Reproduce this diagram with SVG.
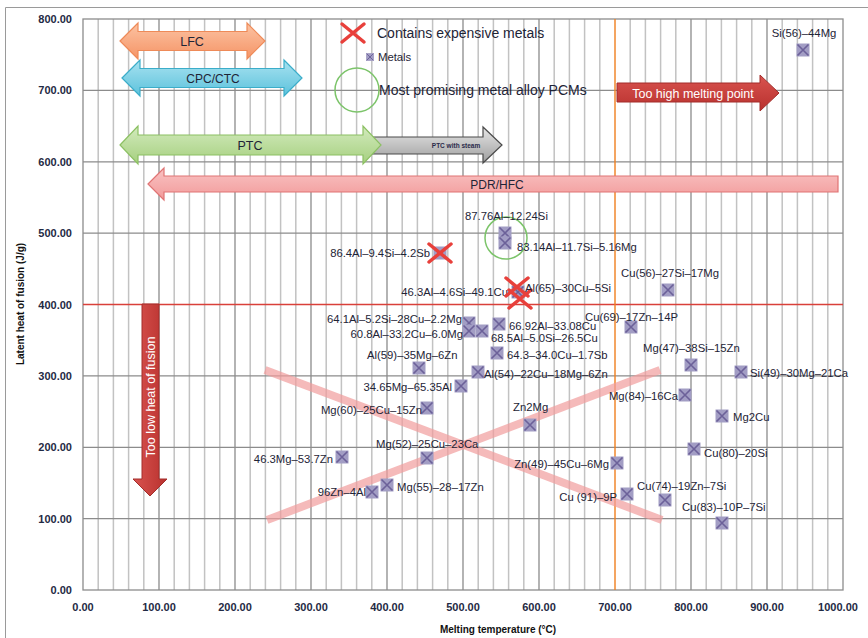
<svg xmlns="http://www.w3.org/2000/svg" width="868" height="638" viewBox="0 0 868 638">
<style>
.lbl{font-family:"Liberation Sans",Arial,sans-serif;font-size:11.3px;fill:#1e2436}
.leg{font-family:"Liberation Sans",Arial,sans-serif;font-size:14px;fill:#1e2436}
.ax{font-family:"Liberation Sans",Arial,sans-serif;font-size:11px;font-weight:bold;fill:#1f2a44}
.tt{font-family:"Liberation Sans",Arial,sans-serif;font-size:10px;font-weight:bold;fill:#111}
.al{font-family:"Liberation Sans",Arial,sans-serif;fill:#1e2436;text-anchor:middle}
.wt{font-family:"Liberation Sans",Arial,sans-serif;font-size:12.5px;fill:#fff;text-anchor:middle}
.minor{stroke:#c2c2c2;stroke-width:1.5;fill:none}
.major{stroke:#8c8c8c;stroke-width:1.3;fill:none}
.pink{stroke:#f29d9d;stroke-width:8;opacity:0.7;stroke-linecap:butt}
</style>
<defs>
<linearGradient id="gO" x1="0" y1="0" x2="0" y2="1"><stop offset="0" stop-color="#fcc3a3"/><stop offset="1" stop-color="#f59466"/></linearGradient>
<linearGradient id="gC" x1="0" y1="0" x2="0" y2="1"><stop offset="0" stop-color="#a8e2f0"/><stop offset="1" stop-color="#5cc2dc"/></linearGradient>
<linearGradient id="gG" x1="0" y1="0" x2="0" y2="1"><stop offset="0" stop-color="#d2eabd"/><stop offset="1" stop-color="#a6d07f"/></linearGradient>
<linearGradient id="gY" x1="0" y1="0" x2="0" y2="1"><stop offset="0" stop-color="#e6e6e6"/><stop offset="1" stop-color="#9e9e9e"/></linearGradient>
<linearGradient id="gP" x1="0" y1="0" x2="0" y2="1"><stop offset="0" stop-color="#f9c3c3"/><stop offset="1" stop-color="#f29a9a"/></linearGradient>
<linearGradient id="gR" x1="0" y1="0" x2="0" y2="1"><stop offset="0" stop-color="#d9534f"/><stop offset="1" stop-color="#b8312e"/></linearGradient>
<linearGradient id="gRv" x1="0" y1="0" x2="1" y2="0"><stop offset="0" stop-color="#d9534f"/><stop offset="1" stop-color="#b8312e"/></linearGradient>
<g id="mk"><rect x="-6.5" y="-6.5" width="13" height="13" fill="#a29dc4"/><path d="M-5.5,-5.5 L5.5,5.5 M5.5,-5.5 L-5.5,5.5" stroke="#6c6199" stroke-width="1.6"/></g>
<path id="rx" d="M-11,-9 L11,9 M11,-9 L-11,9" stroke="#e8403b" stroke-width="3.5" stroke-linecap="round" fill="none"/>
</defs>
<rect width="868" height="638" fill="#fff"/>
<path d="M5.5,640 V7.5 H868" stroke="#9a9a9a" stroke-width="1" fill="none"/>

<g id="grid">
<path class="minor" d="M98.2,19V590M113.4,19V590M128.6,19V590M143.8,19V590M174.2,19V590M189.4,19V590M204.6,19V590M219.8,19V590M250.2,19V590M265.4,19V590M280.6,19V590M295.8,19V590M326.2,19V590M341.4,19V590M356.6,19V590M371.8,19V590M402.2,19V590M417.4,19V590M432.6,19V590M447.8,19V590M478.2,19V590M493.4,19V590M508.6,19V590M523.8,19V590M554.2,19V590M569.4,19V590M584.6,19V590M599.8,19V590M630.2,19V590M645.4,19V590M660.6,19V590M675.8,19V590M706.2,19V590M721.4,19V590M736.6,19V590M751.8,19V590M782.2,19V590M797.4,19V590M812.6,19V590M827.8,19V590"/>
<path class="major" d="M159,19V590M235,19V590M311,19V590M387,19V590M463,19V590M539,19V590M691,19V590M767,19V590"/>
<path class="major" d="M83,518.6H843M83,447.3H843M83,375.9H843M83,233.1H843M83,161.8H843M83,90.4H843"/>
<rect x="83" y="19" width="760" height="571" fill="none" stroke="#8c8c8c" stroke-width="1.3"/>
</g>

<g id="axes">
<g class="ax" text-anchor="end">
<text x="72" y="23">800.00</text><text x="72" y="94.4">700.00</text><text x="72" y="165.8">600.00</text><text x="72" y="237.1">500.00</text><text x="72" y="308.5">400.00</text><text x="72" y="379.9">300.00</text><text x="72" y="451.3">200.00</text><text x="72" y="522.6">100.00</text><text x="72" y="594">0.00</text>
</g>
<g class="ax" text-anchor="middle">
<text x="83" y="611">0.00</text><text x="159" y="611">100.00</text><text x="235" y="611">200.00</text><text x="311" y="611">300.00</text><text x="387" y="611">400.00</text><text x="463" y="611">500.00</text><text x="539" y="611">600.00</text><text x="615" y="611">700.00</text><text x="691" y="611">800.00</text><text x="767" y="611">900.00</text><text x="838" y="611">1000.00</text>
</g>
<text class="tt" x="498" y="633" text-anchor="middle">Melting temperature (°C)</text>
<text class="tt" transform="translate(24,304) rotate(-90)" text-anchor="middle">Latent heat of fusion (J/g)</text>
</g>

<g id="limits">
<line x1="83" y1="304.5" x2="843" y2="304.5" stroke="#d9403a" stroke-width="1.6"/>
<line x1="615" y1="19" x2="615" y2="590" stroke="#f07f1e" stroke-width="1.4"/>
</g>

<g id="cross">
<line class="pink" x1="265" y1="370" x2="662" y2="520"/>
<line class="pink" x1="267" y1="520" x2="660" y2="370"/>
</g>

<g id="arrow-lfc">
<path d="M120,41 L138,23 L138,31.5 L247,31.5 L247,23 L265,41 L247,59 L247,50.5 L138,50.5 L138,59 Z" fill="url(#gO)" stroke="#ee8a58" stroke-width="1.2"/>
<text class="al" x="192" y="45.5" font-size="12.5">LFC</text>
</g>
<g id="arrow-cpc">
<path d="M122,78 L140,60 L140,68.5 L284,68.5 L284,60 L302,78 L284,96 L284,87.5 L140,87.5 L140,96 Z" fill="url(#gC)" stroke="#3badc9" stroke-width="1.2"/>
<text class="al" x="213" y="82.5" font-size="12">CPC/CTC</text>
</g>
<g id="arrow-steam">
<path d="M360,137 L483,137 L483,127 L502,145 L483,163 L483,154 L360,154 Z" fill="url(#gY)" stroke="#4a4a4a" stroke-width="1.2"/>
<text x="456" y="147.5" font-family="Liberation Sans, Arial, sans-serif" font-size="6.5" font-weight="bold" fill="#2a2a4a" text-anchor="middle">PTC with steam</text>
</g>
<g id="arrow-ptc">
<path d="M120,145 L138,126 L138,135 L363,135 L363,126 L381,145 L363,164 L363,155 L138,155 L138,164 Z" fill="url(#gG)" stroke="#8cc063" stroke-width="1.2"/>
<text class="al" x="250" y="149.5" font-size="12.5">PTC</text>
</g>
<g id="arrow-pdr">
<path d="M148,184 L164,168 L164,176 L838,176 L838,192 L164,192 L164,200 Z" fill="url(#gP)" stroke="#e07474" stroke-width="1.2"/>
<text class="al" x="497" y="188.5" font-size="12">PDR/HFC</text>
</g>
<g id="arrow-high">
<path d="M617,83 L760,83 L760,75 L779,93 L760,111 L760,102 L617,102 Z" fill="url(#gR)" stroke="#a32d2a" stroke-width="1"/>
<text class="wt" x="693" y="97.5">Too high melting point</text>
</g>
<g id="arrow-low">
<path d="M142,304 L159,304 L159,479 L167,479 L150,496 L133,479 L142,479 Z" fill="url(#gRv)" stroke="#a32d2a" stroke-width="1"/>
<text class="wt" transform="translate(154.5,397) rotate(-90)">Too low heat of fusion</text>
</g>

<g id="legend">
<use href="#rx" x="353" y="33"/>
<text class="leg" x="377" y="38">Contains expensive metals</text>
<g transform="translate(370,57) scale(0.6)"><use href="#mk"/></g>
<text class="lbl" x="378" y="61">Metals</text>
<circle cx="357" cy="90" r="22" fill="none" stroke="#7cc46a" stroke-width="1.5"/>
<text class="leg" x="379" y="95">Most promising metal alloy PCMs</text>
</g>

<g id="highlight">
<circle cx="506" cy="238" r="21" fill="none" stroke="#7cc46a" stroke-width="1.5"/>
</g>

<g id="p-si56"><use href="#mk" x="803" y="50"/><text class="lbl" x="804" y="37" text-anchor="middle">Si(56)–44Mg</text></g>
<g id="p-al8776"><use href="#mk" x="505" y="233"/><text class="lbl" x="465" y="220">87.76Al–12.24Si</text></g>
<g id="p-al8314"><use href="#mk" x="505" y="243"/><text class="lbl" x="517" y="251">83.14Al–11.7Si–5.16Mg</text></g>
<g id="p-al864"><use href="#mk" x="440" y="253"/><use href="#rx" x="440" y="253"/><text class="lbl" x="430" y="257" text-anchor="end">86.4Al–9.4Si–4.2Sb</text></g>
<g id="p-al463"><use href="#mk" x="518" y="292"/><text class="lbl" x="508" y="296" text-anchor="end">46.3Al–4.6Si–49.1Cu</text><use href="#rx" x="520" y="299"/></g>
<g id="p-al65"><use href="#rx" x="517" y="287"/><text class="lbl" x="525" y="292">Al(65)–30Cu–5Si</text></g>
<g id="p-al641"><use href="#mk" x="469" y="323"/><text class="lbl" x="462" y="323" text-anchor="end">64.1Al–5.2Si–28Cu–2.2Mg</text></g>
<g id="p-al608"><use href="#mk" x="469" y="331"/><text class="lbl" x="463" y="338" text-anchor="end">60.8Al–33.2Cu–6.0Mg</text></g>
<g id="p-al6692"><use href="#mk" x="499" y="324"/><text class="lbl" x="509" y="330">66.92Al–33.08Cu</text></g>
<g id="p-al685"><use href="#mk" x="482" y="331"/><text class="lbl" x="491" y="342">68.5Al–5.0Si–26.5Cu</text></g>
<g id="p-al643"><use href="#mk" x="497" y="353"/><text class="lbl" x="507" y="359">64.3–34.0Cu–1.7Sb</text></g>
<g id="p-al59"><use href="#mk" x="419" y="368"/><text class="lbl" x="367" y="359">Al(59)–35Mg–6Zn</text></g>
<g id="p-al54"><use href="#mk" x="478" y="372"/><text class="lbl" x="484" y="378">Al(54)–22Cu–18Mg–6Zn</text></g>
<g id="p-mg3465"><use href="#mk" x="461" y="386"/><text class="lbl" x="452" y="391" text-anchor="end">34.65Mg–65.35Al</text></g>
<g id="p-mg60"><use href="#mk" x="427" y="408"/><text class="lbl" x="422" y="414" text-anchor="end">Mg(60)–25Cu–15Zn</text></g>
<g id="p-zn2mg"><use href="#mk" x="530" y="425"/><text class="lbl" x="513" y="411">Zn2Mg</text></g>
<g id="p-mg52"><use href="#mk" x="427" y="458"/><text class="lbl" x="376" y="448">Mg(52)–25Cu–23Ca</text></g>
<g id="p-mg463"><use href="#mk" x="342" y="457"/><text class="lbl" x="333" y="463" text-anchor="end">46.3Mg–53.7Zn</text></g>
<g id="p-zn96"><use href="#mk" x="372" y="492"/><text class="lbl" x="366" y="496" text-anchor="end">96Zn–4Al</text></g>
<g id="p-mg55"><use href="#mk" x="387" y="485"/><text class="lbl" x="397" y="491">Mg(55)–28–17Zn</text></g>
<g id="p-zn49"><use href="#mk" x="617" y="463"/><text class="lbl" x="609" y="468" text-anchor="end">Zn(49)–45Cu–6Mg</text></g>
<g id="p-cu91"><use href="#mk" x="627" y="494"/><text class="lbl" x="617" y="501" text-anchor="end">Cu (91)–9P</text></g>
<g id="p-cu74"><use href="#mk" x="665" y="500"/><text class="lbl" x="637" y="490">Cu(74)–19Zn–7Si</text></g>
<g id="p-cu83"><use href="#mk" x="722" y="523"/><text class="lbl" x="682" y="511">Cu(83)–10P–7Si</text></g>
<g id="p-cu80"><use href="#mk" x="694" y="449"/><text class="lbl" x="704" y="457">Cu(80)–20Si</text></g>
<g id="p-mg2cu"><use href="#mk" x="722" y="416"/><text class="lbl" x="733" y="421">Mg2Cu</text></g>
<g id="p-mg84"><use href="#mk" x="685" y="395"/><text class="lbl" x="678" y="400" text-anchor="end">Mg(84)–16Ca</text></g>
<g id="p-si49"><use href="#mk" x="741" y="372"/><text class="lbl" x="750" y="377">Si(49)–30Mg–21Ca</text></g>
<g id="p-mg47"><use href="#mk" x="691" y="365"/><text class="lbl" x="643" y="352">Mg(47)–38Si–15Zn</text></g>
<g id="p-cu69"><use href="#mk" x="631" y="327"/><text class="lbl" x="585" y="321">Cu(69)–17Zn–14P</text></g>
<g id="p-cu56"><use href="#mk" x="668" y="290"/><text class="lbl" x="621" y="277">Cu(56)–27Si–17Mg</text></g>
</svg>
